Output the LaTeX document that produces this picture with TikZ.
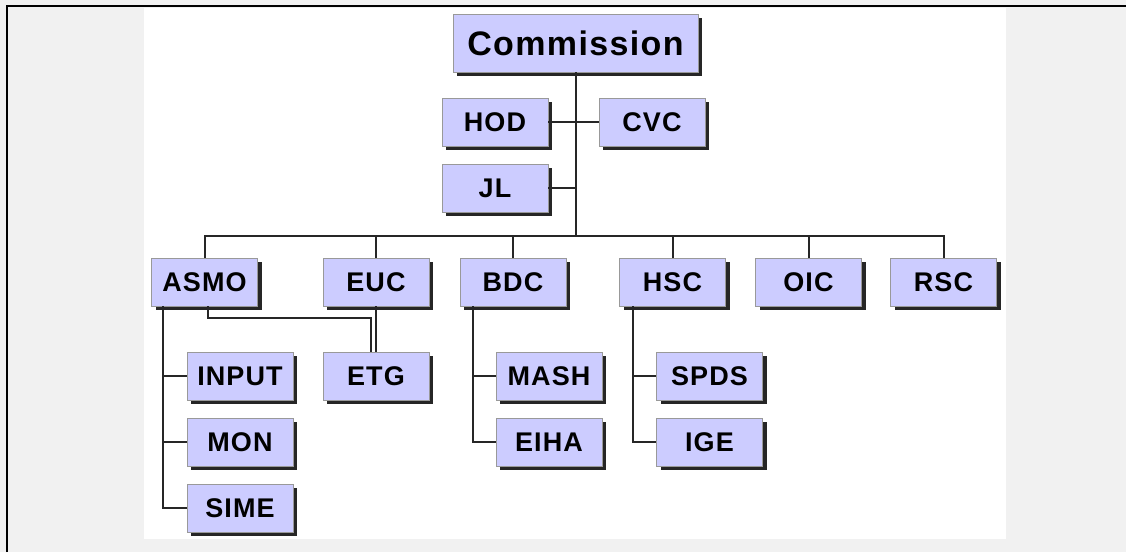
\documentclass[tikz,border=0pt]{standalone}
\usepackage{fontspec}
\setmainfont{Liberation Sans}[LetterSpace=4]
\usetikzlibrary{shadows}
\definecolor{boxblue}{HTML}{CCCCFF}
\definecolor{pagegray}{HTML}{F1F1F1}
\tikzset{
  unit/.style={draw=black!40, line width=0.8pt, fill=boxblue, minimum width=106, minimum height=48, inner sep=0pt,
    font=\fontsize{27}{30}\selectfont\bfseries,
    drop shadow={shadow xshift=4pt, shadow yshift=-4pt, opacity=1, fill=black!85}},
  link/.style={black!85, line width=2pt}
}
\begin{document}
\begin{tikzpicture}[x=1pt, y=-1pt]
\useasboundingbox (0,0) rectangle (1126,552);
\fill[pagegray] (0,0) rectangle (1126,552);
\fill[white] (144,8) rectangle (1006,539);
\draw[line width=2.5pt] (7,552) -- (7,6) -- (1126,6);

\node[unit, minimum width=245, minimum height=58, font=\fontsize{34}{38}\selectfont\bfseries] (Commission) at (575.5,43) {Commission};
\node[unit] (HOD) at (495,122) {HOD};
\node[unit] (CVC) at (652,122) {CVC};
\node[unit] (JL) at (495,188) {JL};

\node[unit] (ASMO) at (204.5,282) {ASMO};
\node[unit] (EUC) at (376,282) {EUC};
\node[unit] (BDC) at (513,282) {BDC};
\node[unit] (HSC) at (672.5,282) {HSC};
\node[unit] (OIC) at (808.5,282) {OIC};
\node[unit] (RSC) at (943.5,282) {RSC};

\node[unit] (INPUT) at (240,376) {INPUT};
\node[unit] (MON) at (240,442) {MON};
\node[unit] (SIME) at (240,508) {SIME};
\node[unit] (ETG) at (376,376) {ETG};
\node[unit] (MASH) at (549,376) {MASH};
\node[unit] (EIHA) at (549,442) {EIHA};
\node[unit] (SPDS) at (709.5,376) {SPDS};
\node[unit] (IGE) at (709.5,442) {IGE};

\coordinate (bus) at (575.5,236);
\draw[link] (Commission) -- (Commission |- bus);
\draw[link] (HOD) -- (CVC);
\draw[link] (JL) -- (JL -| Commission);
\draw[link] (ASMO) |- (bus) -| (RSC);
\foreach \n in {EUC,BDC,HSC,OIC}
  \draw[link] (\n) -- (\n |- bus);

\draw[link] ([xshift=12]ASMO.south west) |- (INPUT);
\draw[link] ([xshift=12]ASMO.south west) |- (MON);
\draw[link] ([xshift=12]ASMO.south west) |- (SIME);
\draw[link] (EUC) -- (ETG);
\draw[link] ([xshift=3]ASMO.south) -- ++(0,12) -| ([xshift=-5]ETG.north);
\draw[link] ([xshift=13]BDC.south west) |- (MASH);
\draw[link] ([xshift=13]BDC.south west) |- (EIHA);
\draw[link] ([xshift=14]HSC.south west) |- (SPDS);
\draw[link] ([xshift=14]HSC.south west) |- (IGE);
\end{tikzpicture}
\end{document}
